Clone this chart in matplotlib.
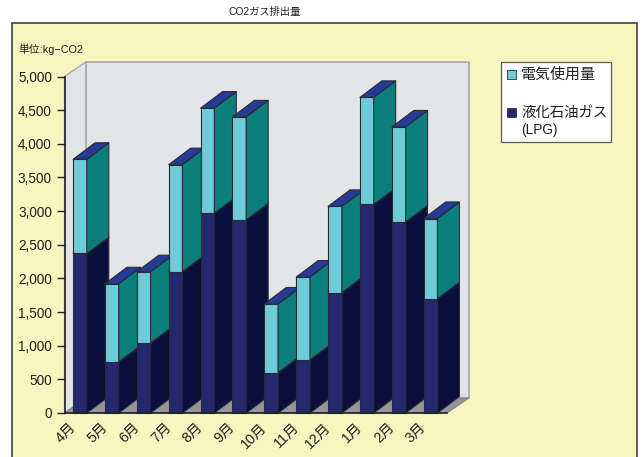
import matplotlib
matplotlib.use('Agg')
import matplotlib.pyplot as plt
from matplotlib.patches import Polygon, Rectangle

plt.rcParams['font.family'] = ['Liberation Sans', 'Noto Sans CJK JP', 'DejaVu Sans']

months = ['4月', '5月', '6月', '7月', '8月', '9月', '10月', '11月', '12月', '1月', '2月', '3月']
lpg = [2370, 760, 1040, 2100, 2970, 2870, 600, 790, 1790, 3100, 2840, 1700]
electric = [1400, 1160, 1060, 1590, 1560, 1530, 1020, 1230, 1280, 1590, 1410, 1190]
yticks = [0, 500, 1000, 1500, 2000, 2500, 3000, 3500, 4000, 4500, 5000]

W, H = 644, 457
YELLOW = '#f8f6bf'
EDGE = '#2a2a35'

# depth of the fake 3d look, in data units
DX = 22 / 31.9
DY = 15 / 336.5 * 5000
BAR_DY = 16.5 / 336.5 * 5000
BAR = 0.43

fig = plt.figure(figsize=(W / 100, H / 100), dpi=100, facecolor='white')
fig.patches.append(Rectangle((12 / W, -0.02), 625 / W, 1.02 - 23 / H, transform=fig.transFigure,
                             facecolor=YELLOW, edgecolor='#4d4d4f', linewidth=1.3, zorder=-5))

ax = fig.add_axes([64.5 / W, 1 - 413 / H, 382.5 / W, 336.5 / H])
ax.patch.set_visible(False)
ax.set_xlim(0, 12)
ax.set_ylim(0, 5000)


def poly(pts, color, edge=EDGE, lw=0.8, z=3):
    ax.add_patch(Polygon(pts, closed=True, facecolor=color, edgecolor=edge, linewidth=lw,
                         zorder=z, clip_on=False, joinstyle='round'))


# walls and floor
wall = '#e3e4e6'
line = '#a7a9ac'
poly([(0, 0), (DX, DY), (DX, 5000 + DY), (0, 5000)], wall, line, 1.0, 1)
poly([(DX, DY), (12 + DX, DY), (12 + DX, 5000 + DY), (DX, 5000 + DY)], wall, line, 1.2, 1)
poly([(0, 0), (12, 0), (12 + DX, DY), (DX, DY)], '#939598', '#808285', 0.8, 1)


def bar3d(x, y0, y1, front, side, top):
    poly([(x, y0), (x + BAR, y0), (x + BAR, y1), (x, y1)], front)
    poly([(x + BAR, y0), (x + BAR + DX, y0 + BAR_DY), (x + BAR + DX, y1 + BAR_DY), (x + BAR, y1)], side)
    poly([(x, y1), (x + BAR, y1), (x + BAR + DX, y1 + BAR_DY), (x + DX, y1 + BAR_DY)], top)


for i in range(len(months)):
    x = i + 0.27
    total = lpg[i] + electric[i]
    bar3d(x, 0, lpg[i], '#24286f', '#0b0f3e', '#0b0f3e')
    bar3d(x, lpg[i], total, '#6fcbd8', '#0b7f7c', '#263b95')

for s in ['top', 'right']:
    ax.spines[s].set_visible(False)
for s in ['left', 'bottom']:
    ax.spines[s].set_color('#231f20')
    ax.spines[s].set_linewidth(1.2)
    ax.spines[s].set_zorder(5)

ax.set_yticks(yticks)
ax.set_yticklabels([f'{v:,}' for v in yticks], fontsize=9.8, color='#231f20')
# labels hang to the left of each bar group, as in the original
ax.set_xticks([i + 0.12 for i in range(12)])
ax.set_xticklabels(months, fontsize=10.2, color='#231f20', rotation=45, ha='right',
                   rotation_mode='anchor')
ax.tick_params(axis='y', length=6, width=1, direction='out', pad=3, color='#231f20')
ax.tick_params(axis='x', length=0, pad=5)

fig.text(265 / W, 1 - 12 / H, 'CO2ガス排出量', fontsize=7.4, ha='center', va='center', color='#231f20')
fig.text(18 / W, 1 - 49 / H, '単位:kg−CO2', fontsize=7.8, ha='left', va='center', color='#231f20')

# legend box
fig.patches.append(Rectangle((500.5 / W, 1 - 141.5 / H), 110 / W, 79 / H, transform=fig.transFigure,
                             facecolor='white', edgecolor='#58595b', linewidth=0.9))
fig.patches.append(Rectangle((507 / W, 1 - 79 / H), 9 / W, 9 / H, transform=fig.transFigure,
                             facecolor='#6fcbd8', edgecolor='#2a2a35', linewidth=0.6))
fig.patches.append(Rectangle((507 / W, 1 - 117 / H), 9 / W, 9 / H, transform=fig.transFigure,
                             facecolor='#24286f', edgecolor='#2a2a35', linewidth=0.6))
fig.text(521 / W, 1 - 75 / H, '電気使用量', fontsize=10.8, ha='left', va='center', color='#231f20')
fig.text(521 / W, 1 - 113 / H, '液化石油ガス', fontsize=10.4, ha='left', va='center', color='#231f20')
fig.text(521 / W, 1 - 130 / H, '(LPG)', fontsize=9.8, ha='left', va='center', color='#231f20')

fig.savefig('out.png', dpi=100)
